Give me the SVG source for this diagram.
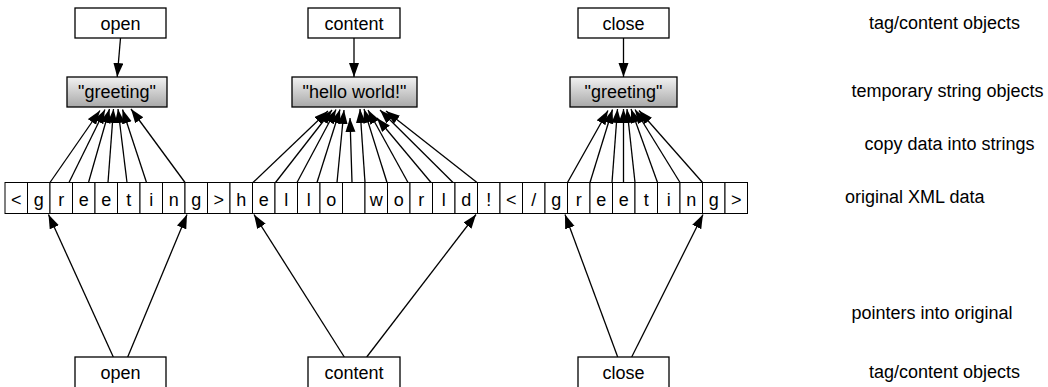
<svg xmlns="http://www.w3.org/2000/svg" width="1048" height="387" viewBox="0 0 1048 387">
  <style>
    text { font-family: "Liberation Sans", Arial, Helvetica, sans-serif; font-size: 18px; fill: #000; }
    .c { text-anchor: middle; }
    .box { fill: #fff; stroke: #000; stroke-width: 1.3; }
    .str { fill: url(#grey); stroke: #000; stroke-width: 1.3; }
    .cell { fill: #fff; stroke: #000; stroke-width: 1; }
    .edge { fill: none; stroke: #000; stroke-width: 1.3; marker-end: url(#arrow); }
  </style>
  <defs>
    <linearGradient id="grey" x1="0" y1="0" x2="0" y2="1">
      <stop offset="0" stop-color="#f2f2f2"/>
      <stop offset="1" stop-color="#a8a8a8"/>
    </linearGradient>
    <marker id="arrow" markerUnits="userSpaceOnUse" markerWidth="15" markerHeight="11" refX="14" refY="5" orient="auto">
      <path d="M0,0 L14,5 L0,10 z" fill="#000"/>
    </marker>
  </defs>

  <!-- connectors -->
  <g id="connectors">
    <!-- tag/content objects to temporary strings -->
    <line class="edge" x1="120.5" y1="38" x2="117.2" y2="77"/>
    <line class="edge" x1="354" y1="38" x2="354" y2="77"/>
    <line class="edge" x1="623.5" y1="38" x2="623.5" y2="77"/>

    <!-- copy into "greeting" (open) -->
    <line class="edge" x1="50" y1="182.5" x2="100" y2="110.5"/>
    <line class="edge" x1="69" y1="182.5" x2="105" y2="109.5"/>
    <line class="edge" x1="88.5" y1="182.5" x2="109.5" y2="109"/>
    <line class="edge" x1="108" y1="182.5" x2="113.5" y2="109"/>
    <line class="edge" x1="127" y1="182.5" x2="118" y2="109"/>
    <line class="edge" x1="146.5" y1="182.5" x2="122.5" y2="109.5"/>
    <line class="edge" x1="185" y1="182.5" x2="131" y2="109"/>

    <!-- copy into "hello world!" -->
    <line class="edge" x1="253" y1="182.5" x2="328" y2="111"/>
    <line class="edge" x1="275.5" y1="182.5" x2="332" y2="110"/>
    <line class="edge" x1="297" y1="182.5" x2="336" y2="109.5"/>
    <line class="edge" x1="317" y1="182.5" x2="340" y2="109.5"/>
    <line class="edge" x1="337" y1="182.5" x2="344" y2="110"/>
    <line class="edge" x1="352" y1="182.5" x2="350" y2="118"/>
    <line class="edge" x1="365" y1="182.5" x2="360" y2="109"/>
    <line class="edge" x1="387" y1="182.5" x2="364" y2="109"/>
    <line class="edge" x1="408" y1="182.5" x2="368" y2="110"/>
    <line class="edge" x1="431" y1="182.5" x2="377" y2="118"/>
    <line class="edge" x1="453" y1="182.5" x2="380" y2="110"/>
    <line class="edge" x1="477" y1="182.5" x2="386" y2="111"/>

    <!-- copy into "greeting" (close) -->
    <line class="edge" x1="567.5" y1="182.5" x2="608" y2="110.5"/>
    <line class="edge" x1="590" y1="182.5" x2="612.5" y2="109.5"/>
    <line class="edge" x1="612" y1="182.5" x2="617.5" y2="109"/>
    <line class="edge" x1="623.5" y1="182.5" x2="623.5" y2="109"/>
    <line class="edge" x1="635" y1="182.5" x2="627" y2="109"/>
    <line class="edge" x1="657.5" y1="182.5" x2="631" y2="109"/>
    <line class="edge" x1="680" y1="182.5" x2="635" y2="109.5"/>
    <line class="edge" x1="702.5" y1="182.5" x2="639" y2="110.5"/>

    <!-- pointers into the original data -->
    <line class="edge" x1="113.3" y1="357" x2="48.5" y2="214.5"/>
    <line class="edge" x1="127.7" y1="357" x2="187" y2="214.5"/>
    <line class="edge" x1="344.3" y1="357" x2="254" y2="214.5"/>
    <line class="edge" x1="366.7" y1="357" x2="476" y2="214.5"/>
    <line class="edge" x1="617.7" y1="357" x2="565" y2="214.5"/>
    <line class="edge" x1="631.7" y1="357" x2="703" y2="214.5"/>
  </g>

  <!-- top tag/content objects -->
  <g id="open-top">
    <rect class="box" x="75" y="8" width="91" height="30"/>
    <text class="c" x="120.5" y="29.5">open</text>
  </g>
  <g id="content-top">
    <rect class="box" x="308" y="8" width="92" height="30"/>
    <text class="c" x="354" y="29.5">content</text>
  </g>
  <g id="close-top">
    <rect class="box" x="578" y="8" width="91" height="30"/>
    <text class="c" x="623.5" y="29.5">close</text>
  </g>

  <!-- temporary string objects -->
  <g id="str-open">
    <rect class="str" x="67" y="77" width="100" height="30"/>
    <text class="c" x="117" y="98">"greeting"</text>
  </g>
  <g id="str-content">
    <rect class="str" x="292" y="77" width="125" height="30"/>
    <text class="c" x="354.5" y="98">"hello world!"</text>
  </g>
  <g id="str-close">
    <rect class="str" x="570" y="77" width="107" height="30"/>
    <text class="c" x="623.5" y="98">"greeting"</text>
  </g>

  <!-- original XML data, one cell per character -->
  <g id="xml-data">
    <rect class="cell" x="5" y="182.5" width="22.5" height="31"/>
    <rect class="cell" x="27.5" y="182.5" width="22.5" height="31"/>
    <rect class="cell" x="50" y="182.5" width="22.5" height="31"/>
    <rect class="cell" x="72.5" y="182.5" width="22.5" height="31"/>
    <rect class="cell" x="95" y="182.5" width="22.5" height="31"/>
    <rect class="cell" x="117.5" y="182.5" width="22.5" height="31"/>
    <rect class="cell" x="140" y="182.5" width="22.5" height="31"/>
    <rect class="cell" x="162.5" y="182.5" width="22.5" height="31"/>
    <rect class="cell" x="185" y="182.5" width="22.5" height="31"/>
    <rect class="cell" x="207.5" y="182.5" width="22.5" height="31"/>
    <rect class="cell" x="230" y="182.5" width="22.5" height="31"/>
    <rect class="cell" x="252.5" y="182.5" width="22.5" height="31"/>
    <rect class="cell" x="275" y="182.5" width="22.5" height="31"/>
    <rect class="cell" x="297.5" y="182.5" width="22.5" height="31"/>
    <rect class="cell" x="320" y="182.5" width="22.5" height="31"/>
    <rect class="cell" x="342.5" y="182.5" width="22.5" height="31"/>
    <rect class="cell" x="365" y="182.5" width="22.5" height="31"/>
    <rect class="cell" x="387.5" y="182.5" width="22.5" height="31"/>
    <rect class="cell" x="410" y="182.5" width="22.5" height="31"/>
    <rect class="cell" x="432.5" y="182.5" width="22.5" height="31"/>
    <rect class="cell" x="455" y="182.5" width="22.5" height="31"/>
    <rect class="cell" x="477.5" y="182.5" width="22.5" height="31"/>
    <rect class="cell" x="500" y="182.5" width="22.5" height="31"/>
    <rect class="cell" x="522.5" y="182.5" width="22.5" height="31"/>
    <rect class="cell" x="545" y="182.5" width="22.5" height="31"/>
    <rect class="cell" x="567.5" y="182.5" width="22.5" height="31"/>
    <rect class="cell" x="590" y="182.5" width="22.5" height="31"/>
    <rect class="cell" x="612.5" y="182.5" width="22.5" height="31"/>
    <rect class="cell" x="635" y="182.5" width="22.5" height="31"/>
    <rect class="cell" x="657.5" y="182.5" width="22.5" height="31"/>
    <rect class="cell" x="680" y="182.5" width="22.5" height="31"/>
    <rect class="cell" x="702.5" y="182.5" width="22.5" height="31"/>
    <rect class="cell" x="725" y="182.5" width="22.5" height="31"/>
    <text class="c" x="16.25" y="205.5">&lt;</text>
    <text class="c" x="38.75" y="205.5">g</text>
    <text class="c" x="61.25" y="205.5">r</text>
    <text class="c" x="83.75" y="205.5">e</text>
    <text class="c" x="106.25" y="205.5">e</text>
    <text class="c" x="128.75" y="205.5">t</text>
    <text class="c" x="151.25" y="205.5">i</text>
    <text class="c" x="173.75" y="205.5">n</text>
    <text class="c" x="196.25" y="205.5">g</text>
    <text class="c" x="218.75" y="205.5">&gt;</text>
    <text class="c" x="241.25" y="205.5">h</text>
    <text class="c" x="263.75" y="205.5">e</text>
    <text class="c" x="286.25" y="205.5">l</text>
    <text class="c" x="308.75" y="205.5">l</text>
    <text class="c" x="331.25" y="205.5">o</text>
    <text class="c" x="376.25" y="205.5">w</text>
    <text class="c" x="398.75" y="205.5">o</text>
    <text class="c" x="421.25" y="205.5">r</text>
    <text class="c" x="443.75" y="205.5">l</text>
    <text class="c" x="466.25" y="205.5">d</text>
    <text class="c" x="488.75" y="205.5">!</text>
    <text class="c" x="511.25" y="205.5">&lt;</text>
    <text class="c" x="533.75" y="205.5">/</text>
    <text class="c" x="556.25" y="205.5">g</text>
    <text class="c" x="578.75" y="205.5">r</text>
    <text class="c" x="601.25" y="205.5">e</text>
    <text class="c" x="623.75" y="205.5">e</text>
    <text class="c" x="646.25" y="205.5">t</text>
    <text class="c" x="668.75" y="205.5">i</text>
    <text class="c" x="691.25" y="205.5">n</text>
    <text class="c" x="713.75" y="205.5">g</text>
    <text class="c" x="736.25" y="205.5">&gt;</text>
  </g>

  <!-- bottom tag/content objects -->
  <g id="open-bottom">
    <rect class="box" x="75" y="357" width="91" height="32"/>
    <text class="c" x="120.5" y="378.5">open</text>
  </g>
  <g id="content-bottom">
    <rect class="box" x="308" y="357" width="92" height="32"/>
    <text class="c" x="354" y="378.5">content</text>
  </g>
  <g id="close-bottom">
    <rect class="box" x="578" y="357" width="91" height="32"/>
    <text class="c" x="623.5" y="378.5">close</text>
  </g>

  <!-- row captions -->
  <g id="captions">
    <text x="869" y="29">tag/content objects</text>
    <text x="851.5" y="97">temporary string objects</text>
    <text x="864.5" y="150">copy data into strings</text>
    <text x="845" y="203">original XML data</text>
    <text x="851.5" y="319">pointers into original</text>
    <text x="869" y="378">tag/content objects</text>
  </g>
</svg>
